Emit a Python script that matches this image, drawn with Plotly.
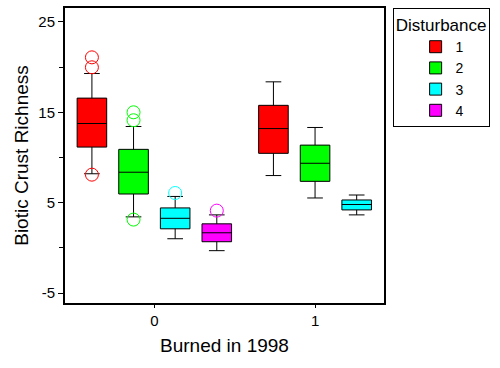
import plotly.graph_objects as go

# ---- data ----
burned_labels = ["0", "1"]
disturbance = ["1", "2", "3", "4"]
colors = ["#FF0000", "#00FF00", "#00FFFF", "#FF00FF"]

# Burned = 0 (disturbance 1..4)
lower_b0 = [8.2, 3.43, 1.01, -0.31]
q1_b0 = [11.15, 5.96, 2.11, 0.68]
median_b0 = [13.76, 8.37, 3.27, 1.67]
q3_b0 = [16.57, 10.9, 4.42, 2.66]
upper_b0 = [19.29, 13.43, 5.69, 3.65]
outliers_b0 = [[21.08, 19.98, 8.1], [15.0, 14.12, 3.13], [6.07], [4.12]]

# Burned = 1 (disturbance 1..3)
lower_b1 = [8.0, 5.52, 3.65]
q1_b1 = [10.46, 7.36, 4.2]
median_b1 = [13.2, 9.36, 4.8]
q3_b1 = [15.77, 11.37, 5.3]
upper_b1 = [18.37, 13.32, 5.85]
outliers_b1 = [[], [], []]

y_ticks = [-5, 5, 15, 25]
y_tick_labels = ["-5", "5", "15", "25"]

groups = [
    (lower_b0, q1_b0, median_b0, q3_b0, upper_b0, outliers_b0),
    (lower_b1, q1_b1, median_b1, q3_b1, upper_b1, outliers_b1),
]

slot = 0.259
box_w = 0.184

fig = go.Figure()
for gi, (lo, a, m, b, hi, outs) in enumerate(groups):
    n = len(m)
    for k in range(n):
        pos = gi + (k - (n - 1) / 2) * slot
        fig.add_trace(go.Box(
            x=[pos], q1=[a[k]], median=[m[k]], q3=[b[k]],
            lowerfence=[lo[k]], upperfence=[hi[k]],
            width=box_w, whiskerwidth=0.53,
            fillcolor=colors[k], line=dict(color="black", width=1),
            name=disturbance[k], legendgroup=disturbance[k],
            showlegend=(gi == 0), boxpoints=False, hoverinfo="skip",
        ))
        if outs[k]:
            fig.add_trace(go.Scatter(
                x=[pos] * len(outs[k]), y=outs[k], mode="markers",
                marker=dict(symbol="circle-open", size=13, color=colors[k],
                            line=dict(width=1, color=colors[k])),
                showlegend=False, hoverinfo="skip",
            ))

font = "Liberation Sans, Arial, sans-serif"
fig.update_layout(
    width=500, height=368,
    margin=dict(l=64.5, r=116, t=6, b=65),
    paper_bgcolor="white", plot_bgcolor="white",
    font=dict(family=font, color="black", size=15),
    showlegend=True,
    legend=dict(
        title=dict(text="Disturbance", font=dict(size=17), side="top center"),
        font=dict(size=14),
        x=1.027, xanchor="left", y=1.0, yanchor="top",
        bordercolor="black", borderwidth=1, bgcolor="white",
        indentation=22, tracegroupgap=0,
    ),
    xaxis=dict(
        range=[-0.556, 1.429], tickmode="array", tickvals=[0, 1],
        ticktext=burned_labels, ticks="outside", ticklen=3, tickcolor="black",
        showgrid=False, zeroline=False, showline=True, linecolor="black",
        linewidth=2, mirror=True, ticklabelstandoff=0,
        title=dict(text="Burned in 1998", font=dict(size=19), standoff=11),
        tickfont=dict(size=15),
    ),
    yaxis=dict(
        range=[-6.1, 26.54], tickmode="array", tickvals=y_ticks,
        ticktext=y_tick_labels,
        ticks="outside", ticklen=5, tickcolor="black",
        minor=dict(tickmode="array", tickvals=[0, 10, 20], ticks="outside",
                   ticklen=4, tickcolor="black"),
        showgrid=False, zeroline=False, showline=True, linecolor="black",
        linewidth=2, mirror=True,
        title=dict(text="Biotic Crust Richness", font=dict(size=19), standoff=5),
        tickfont=dict(size=15),
    ),
)

fig.write_html("out.html", config={"displayModeBar": False},
               post_script="document.body.style.margin='0';")
